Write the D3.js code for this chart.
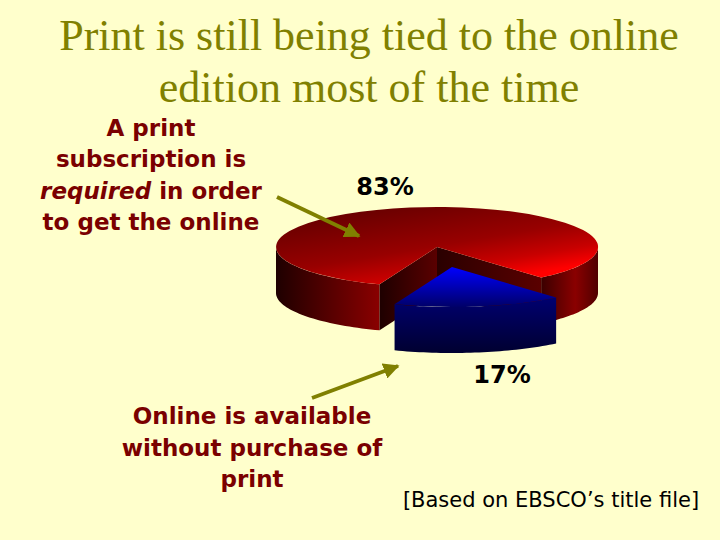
<!DOCTYPE html>
<html><head><meta charset="utf-8">
<script src="https://cdn.jsdelivr.net/npm/d3@7/dist/d3.min.js"></script>
<style>html,body{margin:0;padding:0;background:#ffffcc}svg{display:block}</style>
</head><body><svg id="c" width="720" height="540"></svg>
<script>
const categories = ["Print subscription required", "Online available without print"];
const values = [83, 17];
const percentLabels = ["83%", "17%"];
const titleLines = ["Print is still being tied to the online", "edition most of the time"];
const cfg = {cx:437, cy:247, rx:161, ry:40, depth:46, startDeg:200.9, ex:15, ey:20};

const svg = d3.select("#c");
const defs = svg.append("defs");
function grad(id, x1,y1,x2,y2, stops){
  const g = defs.append("linearGradient").attr("id",id).attr("x1",x1).attr("y1",y1).attr("x2",x2).attr("y2",y2);
  stops.forEach(s=>g.append("stop").attr("offset",s[0]).attr("stop-color",s[1]));
}
grad("redTop","15%","0%","85%","100%",[[0,"#600000"],[.5,"#980000"],[.72,"#c80000"],[.88,"#ff0000"],[1,"#ff0000"]]);
grad("redWallL","0%","0%","100%","0%",[[0,"#1e0000"],[1,"#8a0000"]]);
grad("redWallR","0%","0%","100%","0%",[[0,"#3a0000"],[.6,"#8a0000"],[1,"#500000"]]);
grad("cutA","0%","0%","100%","0%",[[0,"#1e0000"],[1,"#5a0000"]]);
grad("cutB","0%","0%","100%","0%",[[0,"#2a0000"],[1,"#5a0000"]]);
grad("blueTop","0%","0%","0%","100%",[[0,"#0000ff"],[1,"#000068"]]);
grad("blueWall","0%","0%","0%","100%",[[0,"#000070"],[1,"#000030"]]);

const rad = d3.scaleLinear().domain([0,360]).range([0,2*Math.PI]);
const slices = d3.pie().sort(null).startAngle(rad(cfg.startDeg)).endAngle(rad(cfg.startDeg+360)).value(d=>d)(values);
const px = (a,ox=0)=>cfg.cx+ox+cfg.rx*Math.sin(a);
const py = (a,oy=0)=>cfg.cy+oy-cfg.ry*Math.cos(a);

function wall(a0,a1,ox,oy){
  const t = d3.range(0,41).map(i=>a0+(a1-a0)*i/40);
  return d3.area().x(a=>px(a,ox)).y0(a=>py(a,oy)).y1(a=>py(a,oy)+cfg.depth)(t);
}
function cut(a,ox,oy){
  return d3.line()([[cfg.cx+ox,cfg.cy+oy],[px(a,ox),py(a,oy)],[px(a,ox),py(a,oy)+cfg.depth],[cfg.cx+ox,cfg.cy+oy+cfg.depth]])+"Z";
}
function topFace(s){
  return d3.arc().innerRadius(0).outerRadius(1)(s);
}
const red = slices[0], blue = slices[1];
const g = svg.append("g");
// red outer walls (front half only)
g.append("path").attr("d",wall(rad(90),blue.startAngle>rad(360)?blue.startAngle-2*Math.PI:blue.startAngle,0,0)).attr("fill","url(#redWallR)");
g.append("path").attr("d",wall(red.startAngle,rad(270),0,0)).attr("fill","url(#redWallL)");
// cut faces
g.append("path").attr("d",cut(blue.startAngle,0,0)).attr("fill","url(#cutB)");
g.append("path").attr("d",cut(red.startAngle,0,0)).attr("fill","url(#cutA)");
// red top
g.append("path").attr("d",topFace(red)).attr("transform",`translate(${cfg.cx},${cfg.cy}) scale(${cfg.rx},${cfg.ry})`).attr("fill","url(#redTop)");
// blue exploded
g.append("path").attr("d",wall(blue.startAngle,blue.endAngle,cfg.ex,cfg.ey)).attr("fill","url(#blueWall)");
g.append("path").attr("d",topFace(blue)).attr("transform",`translate(${cfg.cx+cfg.ex},${cfg.cy+cfg.ey}) scale(${cfg.rx},${cfg.ry})`).attr("fill","url(#blueTop)");

// title
svg.append("g").selectAll("text").data(titleLines).join("text")
  .attr("x",369).attr("y",(d,i)=>50+i*52).attr("text-anchor","middle")
  .attr("font-family","'Liberation Serif'").attr("font-size",44).attr("fill","#808000").text(d=>d);

// annotations
const sans = "'DejaVu Sans'";
function block(lines,x,y0,step,size,color){
  const t = svg.append("g").selectAll("text").data(lines).join("text")
   .attr("x",x).attr("y",(d,i)=>y0+i*step).attr("text-anchor","middle")
   .attr("font-family",sans).attr("font-weight","bold").attr("font-size",size).attr("fill",color);
  t.each(function(d){const e=d3.select(this);d.forEach(p=>e.append("tspan").attr("font-style",p[1]?"italic":"normal").text(p[0]));});
}
block([[["A print"]],[["subscription is"]],[["required",1],[" in order"]],[["to get the online"]]],151,136,31.3,23,"#7a0000");
block([[["Online is available"]],[["without purchase of"]],[["print"]]],252,424,31.5,23,"#7a0000");
svg.append("text").attr("x",385).attr("y",195).attr("text-anchor","middle").attr("font-family",sans).attr("font-weight","bold").attr("font-size",24).attr("fill","#000").text(percentLabels[0]);
svg.append("text").attr("x",502).attr("y",383).attr("text-anchor","middle").attr("font-family",sans).attr("font-weight","bold").attr("font-size",24).attr("fill","#000").text(percentLabels[1]);
svg.append("text").attr("x",551).attr("y",507).attr("text-anchor","middle").attr("font-family",sans).attr("font-size",21).attr("fill","#000").text("[Based on EBSCO’s title file]");

// arrows
const mk = defs.append("marker").attr("id","ah").attr("viewBox","0 0 10 10").attr("refX",9).attr("refY",5).attr("markerWidth",4).attr("markerHeight",4).attr("orient","auto").attr("markerUnits","strokeWidth");
mk.append("path").attr("d","M0 0L10 5L0 10Z").attr("fill","#808000");
[[[277,197],[359,236]],[[312,398],[398,366]]].forEach(p=>{
  svg.append("path").attr("d",d3.line()(p)).attr("stroke","#808000").attr("stroke-width",4).attr("fill","none").attr("marker-end","url(#ah)");
});
</script></body></html>
